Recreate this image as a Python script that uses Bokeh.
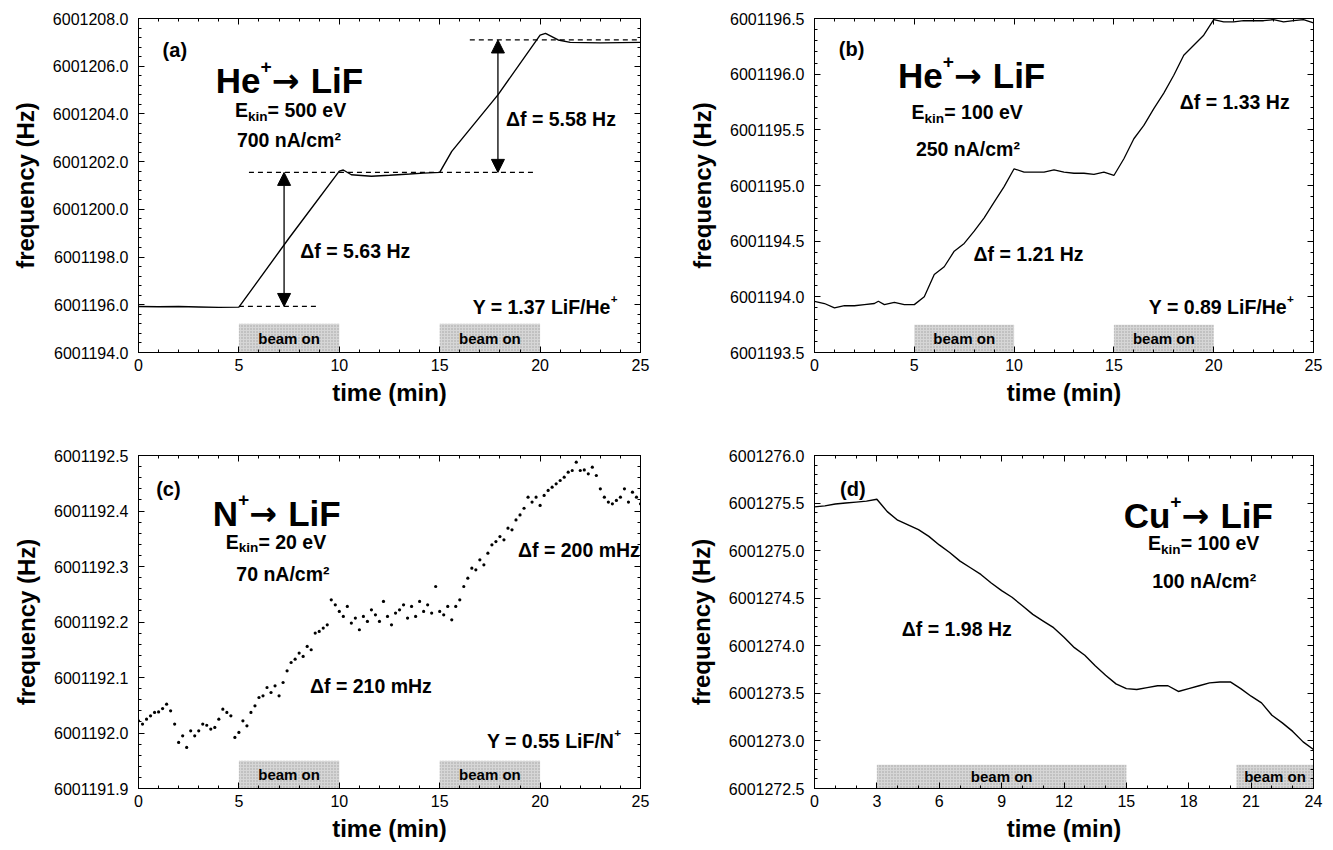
from bokeh.plotting import figure
from bokeh.layouts import gridplot
from bokeh.models import (Range1d, LinearAxis, SingleIntervalTicker, NumeralTickFormatter,
                          Arrow, NormalHead)
from bokeh.core.properties import value
from bokeh.embed import file_html
from bokeh.resources import INLINE

FONT = "Liberation Sans"
ARROW_FONT = "DejaVu Sans"

# ---------------- data ----------------
a_time = [0, 1, 2, 3, 4, 5, 7.5, 10, 10.2, 10.6, 11.6, 12.5, 13.5, 14.2, 15, 15.6, 17.9, 20, 20.27, 20.9, 21.5, 23, 25]
a_freq = [6001195.93, 6001195.92, 6001195.93, 6001195.91, 6001195.89, 6001195.90, 6001198.80, 6001201.60,
          6001201.65, 6001201.45, 6001201.39, 6001201.43, 6001201.48, 6001201.52, 6001201.55, 6001202.43,
          6001204.80, 6001207.30, 6001207.38, 6001207.10, 6001207.00, 6001206.98, 6001207.00]
a_beam_start = [5, 15]
a_beam_end = [10, 20]
a_levels = [6001195.93, 6001201.55, 6001207.10]

b_time = [0, 0.5, 1, 1.5, 2, 2.5, 3, 3.2, 3.5, 4, 4.5, 5, 5.5, 6, 6.5, 7, 7.5, 8, 8.5, 9, 9.5, 10,
          10.5, 11, 11.5, 12, 12.5, 13, 13.5, 14, 14.5, 15, 15.5, 16, 16.5, 17, 17.5, 18, 18.5, 19, 19.5,
          20, 20.5, 21, 21.5, 22, 22.5, 23, 23.5, 24, 24.5, 25]
b_freq = [6001193.96, 6001193.94, 6001193.90, 6001193.92, 6001193.92, 6001193.93, 6001193.94, 6001193.96,
          6001193.93, 6001193.95, 6001193.93, 6001193.93, 6001194.00, 6001194.20, 6001194.27, 6001194.41,
          6001194.48, 6001194.59, 6001194.71, 6001194.85, 6001194.99, 6001195.15, 6001195.12, 6001195.12,
          6001195.12, 6001195.14, 6001195.12, 6001195.11, 6001195.11, 6001195.10, 6001195.12, 6001195.09,
          6001195.24, 6001195.42, 6001195.54, 6001195.69, 6001195.83, 6001195.99, 6001196.17, 6001196.26,
          6001196.35, 6001196.49, 6001196.47, 6001196.47, 6001196.48, 6001196.48, 6001196.48, 6001196.49,
          6001196.47, 6001196.48, 6001196.49, 6001196.46]
b_beam_start = [5, 15]
b_beam_end = [10, 20]

c_time = [0.0, 0.2, 0.4, 0.6, 0.8, 1.0, 1.2, 1.4, 1.6, 1.8, 2.0, 2.2, 2.4, 2.6, 2.8, 3.0, 3.2, 3.4, 3.6, 3.8,
          4.0, 4.2, 4.4, 4.6, 4.8, 5.0, 5.2, 5.4, 5.6, 5.8, 6.0, 6.2, 6.4, 6.6, 6.8, 7.0, 7.2, 7.4, 7.6, 7.8,
          8.0, 8.2, 8.4, 8.6, 8.8, 9.0, 9.2, 9.4, 9.6, 9.8, 10.0, 10.2, 10.4, 10.6, 10.8, 11.0, 11.2, 11.4,
          11.6, 11.8, 12.0, 12.2, 12.4, 12.6, 12.8, 13.0, 13.2, 13.4, 13.6, 13.8, 14.0, 14.2, 14.4, 14.6,
          14.8, 15.0, 15.2, 15.4, 15.6, 15.8, 16.0, 16.2, 16.4, 16.6, 16.8, 17.0, 17.2, 17.4, 17.6, 17.8,
          18.0, 18.2, 18.4, 18.6, 18.8, 19.0, 19.2, 19.4, 19.6, 19.8, 20.0, 20.2, 20.4, 20.6, 20.8, 21.0,
          21.2, 21.4, 21.6, 21.8, 22.0, 22.2, 22.4, 22.6, 22.8, 23.0, 23.2, 23.4, 23.6, 23.8, 24.0, 24.2,
          24.4, 24.6, 24.8, 25.0]
c_freq = [6001192.022, 6001192.016, 6001192.025, 6001192.031, 6001192.037, 6001192.038, 6001192.044,
          6001192.052, 6001192.040, 6001192.016, 6001191.983, 6001191.995, 6001191.974, 6001192.004,
          6001191.995, 6001192.004, 6001192.016, 6001192.014, 6001192.007, 6001192.010, 6001192.025,
          6001192.043, 6001192.037, 6001192.031, 6001191.992, 6001192.001, 6001192.022, 6001192.013,
          6001192.037, 6001192.049, 6001192.064, 6001192.067, 6001192.082, 6001192.073, 6001192.085,
          6001192.067, 6001192.091, 6001192.112, 6001192.127, 6001192.133, 6001192.144, 6001192.138,
          6001192.156, 6001192.150, 6001192.180, 6001192.183, 6001192.189, 6001192.195, 6001192.240,
          6001192.231, 6001192.219, 6001192.210, 6001192.228, 6001192.198, 6001192.207, 6001192.186,
          6001192.210, 6001192.201, 6001192.222, 6001192.213, 6001192.201, 6001192.237, 6001192.210,
          6001192.195, 6001192.216, 6001192.222, 6001192.231, 6001192.207, 6001192.228, 6001192.210,
          6001192.237, 6001192.219, 6001192.231, 6001192.216, 6001192.264, 6001192.219, 6001192.213,
          6001192.228, 6001192.204, 6001192.228, 6001192.240, 6001192.264, 6001192.279, 6001192.297,
          6001192.294, 6001192.312, 6001192.303, 6001192.324, 6001192.339, 6001192.345, 6001192.354,
          6001192.348, 6001192.369, 6001192.366, 6001192.384, 6001192.393, 6001192.405, 6001192.425,
          6001192.416, 6001192.425, 6001192.410, 6001192.428, 6001192.437, 6001192.443, 6001192.449,
          6001192.455, 6001192.461, 6001192.470, 6001192.473, 6001192.488, 6001192.473, 6001192.474,
          6001192.467, 6001192.479, 6001192.464, 6001192.440, 6001192.425, 6001192.416, 6001192.413,
          6001192.419, 6001192.425, 6001192.440, 6001192.416, 6001192.434, 6001192.425, 6001192.413]
c_beam_start = [5, 15]
c_beam_end = [10, 20]

d_time = [0, 0.5, 1, 1.5, 2, 2.5, 3, 3.5, 4, 4.5, 5, 5.5, 6, 6.5, 7, 7.5, 8, 8.5, 9, 9.5, 10, 10.5, 11,
          11.5, 12, 12.5, 13, 13.5, 14, 14.5, 15, 15.5, 16, 16.5, 17, 17.5, 18, 18.5, 19, 19.5, 20, 20.5,
          21, 21.5, 22, 22.5, 23, 23.5, 24]
d_freq = [6001275.46, 6001275.47, 6001275.49, 6001275.50, 6001275.51, 6001275.52, 6001275.54, 6001275.41,
          6001275.32, 6001275.27, 6001275.22, 6001275.15, 6001275.06, 6001274.98, 6001274.89, 6001274.82,
          6001274.75, 6001274.66, 6001274.58, 6001274.51, 6001274.42, 6001274.33, 6001274.26, 6001274.19,
          6001274.09, 6001273.98, 6001273.90, 6001273.79, 6001273.69, 6001273.60, 6001273.55, 6001273.54,
          6001273.56, 6001273.58, 6001273.58, 6001273.52, 6001273.55, 6001273.58, 6001273.61, 6001273.62,
          6001273.62, 6001273.55, 6001273.47, 6001273.40, 6001273.27, 6001273.19, 6001273.10, 6001272.99,
          6001272.91]
d_beam_start = [3, 20.3]
d_beam_end = [15, 24]

# ---------------- helpers ----------------
W = {' ': 278, '(': 333, ')': 333, '+': 584, '=': 584, '.': 278, '/': 278, 'A': 722, 'C': 722,
     'E': 667, 'F': 611, 'H': 722, 'L': 611, 'N': 722, 'Y': 667, 'a': 556, 'b': 611, 'c': 556,
     'd': 611, 'e': 556, 'f': 333, 'i': 278, 'k': 556, 'm': 889, 'n': 611, 'u': 611, 'V': 667,
     'z': 500, 'o': 611, 'Δ': 722, '→': 838, '²': 333}
for ch in "0123456789":
    W[ch] = 556


def twidth(s, size):
    return sum(W.get(ch, 600) for ch in s) / 1000.0 * size


def rich(p, x, y, parts, size):
    """parts: (text, relative size, shift up in px[, font[, gap before in px]])"""
    cx = 0.0
    for part in parts:
        txt, rs, sh = part[:3]
        font = part[3] if len(part) > 3 else FONT
        gap = part[4] if len(part) > 4 else 0.0
        cx += gap
        fs = size * rs
        p.text(x=[x], y=[y], text=[txt], x_offset=cx, y_offset=0.36 * size - sh,
               text_font=value(font), text_font_style="bold", text_font_size=f"{fs:.1f}px",
               text_baseline="alphabetic", text_align="left", text_color="black")
        cx += twidth(txt, fs)


def title_parts(ion):
    return [(ion, 1, 0), ("+", 0.55, 14), ("→", 0.95, 0, ARROW_FONT), ("LiF", 1, 0, FONT, 11)]


def make_panel(x_end, x_int, x_minor, y0, y1, y_int, fw, fh, mbl, mbr, mbt, mbb):
    p = figure(x_range=Range1d(0, x_end), y_range=Range1d(y0, y1), frame_width=fw, frame_height=fh,
               min_border_left=mbl, min_border_right=mbr, min_border_top=mbt, min_border_bottom=mbb,
               output_backend="svg", toolbar_location=None, x_axis_type=None, y_axis_type=None)
    p.outline_line_color = "black"
    p.outline_line_width = 1
    p.background_fill_color = "white"
    p.border_fill_color = "white"
    xt = SingleIntervalTicker(interval=x_int, num_minor_ticks=x_minor)
    yt = SingleIntervalTicker(interval=y_int, num_minor_ticks=5)
    common = dict(major_tick_in=6, major_tick_out=0, minor_tick_in=3, minor_tick_out=0,
                  axis_line_color="black", major_tick_line_color="black", minor_tick_line_color="black")
    bottom = LinearAxis(ticker=xt, axis_label="time (min)", major_label_standoff=6,
                        axis_label_standoff=5, **common)
    left = LinearAxis(ticker=yt, axis_label="frequency (Hz)", major_label_standoff=10,
                      axis_label_standoff=11, formatter=NumeralTickFormatter(format="0.0"), **common)
    for ax in (bottom, left):
        ax.major_label_text_font = FONT
        ax.major_label_text_font_size = "16px"
        ax.major_label_text_color = "black"
        ax.axis_label_text_font = FONT
        ax.axis_label_text_font_size = "24px"
        ax.axis_label_text_font_style = "bold"
        ax.axis_label_text_color = "black"
    # mirrored tick marks on top and right (no labels drawn)
    top = LinearAxis(ticker=xt, major_label_text_color=None, major_label_standoff=0, **common)
    right = LinearAxis(ticker=yt, major_label_text_color=None, major_label_standoff=0, **common)
    p.add_layout(bottom, "below")
    p.add_layout(left, "left")
    p.add_layout(top, "above")
    p.add_layout(right, "right")
    return p


def beams(p, starts, ends, y0, h):
    p.quad(left=starts, right=ends, bottom=[y0] * len(starts), top=[y0 + h] * len(starts),
           fill_color="#d6d6d6", line_color=None, hatch_pattern="dot", hatch_color="#8a8a8a",
           hatch_scale=3, hatch_weight=1, hatch_alpha=0.7)
    p.text(x=[(s + e) / 2 for s, e in zip(starts, ends)], y=[y0 + h / 2] * len(starts),
           text=["beam on"] * len(starts), text_align="center", text_baseline="middle",
           text_font=value(FONT), text_font_style="bold", text_font_size="15px", text_color="black")


# ---------------- panel (a) ----------------
pa = make_panel(25, 5, 5, 6001194.0, 6001208.0, 2, 502, 334, 138, 28, 18, 82)
beams(pa, a_beam_start, a_beam_end, 6001194.0, 1.2)
pa.segment(x0=[5.0, 5.5, 16.5], y0=a_levels, x1=[8.9, 19.7, 25.0], y1=a_levels,
           line_color="black", line_width=1.2, line_dash="5 4")
for xa, lo, hi in [(7.25, a_levels[0], a_levels[1]), (17.9, a_levels[1], a_levels[2])]:
    pa.add_layout(Arrow(x_start=xa, y_start=lo, x_end=xa, y_end=hi, line_width=1.3, line_color="black",
                        start=NormalHead(size=13, fill_color="black", line_color="black"),
                        end=NormalHead(size=13, fill_color="black", line_color="black")))
pa.line(a_time, a_freq, line_color="black", line_width=1.4)
rich(pa, 1.2, 6001207.0, [("(a)", 1, 0)], 20)
rich(pa, 3.85, 6001205.95, title_parts("He"), 35)
rich(pa, 4.8, 6001204.45, [("E", 1, 0), ("kin", 0.7, -6), ("= 500 eV", 1, 0)], 19.5)
rich(pa, 4.9, 6001203.2, [("700 nA/cm²", 1, 0)], 19.5)
rich(pa, 8.06, 6001198.55, [("Δf = 5.63 Hz", 1, 0)], 19.5)
rich(pa, 18.3, 6001204.1, [("Δf = 5.58 Hz", 1, 0)], 19.5)
rich(pa, 16.64, 6001196.2, [("Y = 1.37 LiF/He", 1, 0), ("+", 0.6, 8)], 19.5)

# ---------------- panel (b) ----------------
pb = make_panel(25, 5, 5, 6001193.5, 6001196.5, 0.5, 499, 334, 146, 10, 18, 82)
beams(pb, b_beam_start, b_beam_end, 6001193.5, 0.25)
pb.line(b_time, b_freq, line_color="black", line_width=1.3)
rich(pb, 1.22, 6001196.29, [("(b)", 1, 0)], 20)
rich(pb, 4.18, 6001196.1, title_parts("He"), 35)
rich(pb, 4.86, 6001195.72, [("E", 1, 0), ("kin", 0.7, -6), ("= 100 eV", 1, 0)], 19.5)
rich(pb, 5.08, 6001195.39, [("250 nA/cm²", 1, 0)], 19.5)
rich(pb, 7.97, 6001194.45, [("Δf = 1.21 Hz", 1, 0)], 19.5)
rich(pb, 18.3, 6001195.81, [("Δf = 1.33 Hz", 1, 0)], 19.5)
rich(pb, 16.75, 6001193.97, [("Y = 0.89 LiF/He", 1, 0), ("+", 0.6, 8)], 19.5)

# ---------------- panel (c) ----------------
pc = make_panel(25, 5, 5, 6001191.9, 6001192.5, 0.1, 502, 333, 138, 28, 21, 54)
beams(pc, c_beam_start, c_beam_end, 6001191.9, 0.05)
pc.scatter(c_time, c_freq, size=3.2, marker="circle", fill_color="black", line_color=None)
rich(pc, 0.88, 6001192.452, [("(c)", 1, 0)], 20)
rich(pc, 3.7, 6001192.419, title_parts("N"), 35)
rich(pc, 4.34, 6001192.357, [("E", 1, 0), ("kin", 0.7, -6), ("= 20 eV", 1, 0)], 19.5)
rich(pc, 4.87, 6001192.300, [("70 nA/cm²", 1, 0)], 19.5)
rich(pc, 8.54, 6001192.097, [("Δf = 210 mHz", 1, 0)], 19.5)
rich(pc, 18.9, 6001192.342, [("Δf = 200 mHz", 1, 0)], 19.5)
rich(pc, 17.35, 6001191.999, [("Y = 0.55 LiF/N", 1, 0), ("+", 0.6, 8)], 19.5)

# ---------------- panel (d) ----------------
pd_ = make_panel(24, 3, 3, 6001272.5, 6001276.0, 0.5, 499, 333, 146, 10, 21, 54)
beams(pd_, d_beam_start, d_beam_end, 6001272.5, 0.25)
pd_.line(d_time, d_freq, line_color="black", line_width=1.4)
rich(pd_, 1.23, 6001275.72, [("(d)", 1, 0)], 20)
rich(pd_, 14.87, 6001275.5, title_parts("Cu"), 35)
rich(pd_, 16.04, 6001275.15, [("E", 1, 0), ("kin", 0.7, -6), ("= 100 eV", 1, 0)], 19.5)
rich(pd_, 16.24, 6001274.75, [("100 nA/cm²", 1, 0)], 19.5)
rich(pd_, 4.2, 6001274.25, [("Δf = 1.98 Hz", 1, 0)], 19.5)

grid = gridplot([[pa, pb], [pc, pd_]], toolbar_location=None)

open("out.html", "w").write(file_html(grid, INLINE))
